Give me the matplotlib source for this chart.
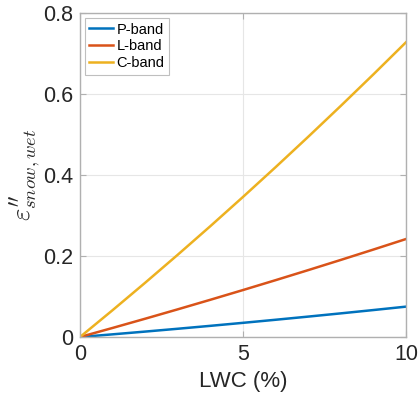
import matplotlib.pyplot as plt

plt.rcParams['font.family'] = ['Liberation Sans', 'DejaVu Sans']
plt.rcParams['mathtext.fontset'] = 'cm'

lwc = [0, 1, 2, 3, 4, 5, 6, 7, 8, 9, 10]
p_band = [0, 0.0066, 0.0134, 0.0204, 0.0276, 0.035, 0.0426, 0.0504, 0.0584, 0.0666, 0.075]
l_band = [0, 0.0224, 0.0452, 0.0684, 0.092, 0.116, 0.1404, 0.1652, 0.1904, 0.216, 0.242]
c_band = [0, 0.0663, 0.1341, 0.2033, 0.2739, 0.346, 0.4195, 0.4945, 0.5709, 0.6487, 0.728]

labels = ['P-band', 'L-band', 'C-band']
colors = ['#0072BD', '#D95319', '#EDB120']

fig = plt.figure(figsize=(4.18, 4.08), dpi=100)
ax = fig.add_axes([0.1914, 0.174, 0.78, 0.794])

for y, lab, c in zip([p_band, l_band, c_band], labels, colors):
    ax.plot(lwc, y, color=c, lw=1.8, label=lab)

ax.set_xlim(0, 10)
ax.set_ylim(0, 0.8)
ax.set_xticks([0, 5, 10])
ax.set_yticks([0, 0.2, 0.4, 0.6, 0.8])
ax.set_yticklabels(['0', '0.2', '0.4', '0.6', '0.8'])
ax.grid(True, color='#e6e6e6', lw=0.8)
ax.set_axisbelow(True)
ax.tick_params(direction='in', length=4, color='#b0b0b0', labelsize=15.5,
               labelcolor='#262626', top=True, right=True, pad=5)
for s in ax.spines.values():
    s.set_color('#b0b0b0')
    s.set_linewidth(1.0)

ax.set_xlabel('LWC (%)', fontsize=16, color='#262626', labelpad=4)
ax.set_ylabel(r'$\varepsilon^{\prime\prime}_{snow,wet}$', fontsize=19,
              color='#262626', labelpad=0)

# legend box, MATLAB style
leg = ax.legend(loc='upper left', fontsize=10.5, frameon=True, fancybox=False,
                edgecolor='#b0b0b0', handlelength=1.6, handletextpad=0.25,
                borderpad=0.3, labelspacing=0.2, borderaxespad=0.35)
leg.get_frame().set_linewidth(0.8)

# panel title, mostly cut off at the top edge
fig.text(0.581, 1.014, '(c)', fontsize=16, ha='center', va='baseline', color='#262626')

fig.savefig('out.png', dpi=100)
